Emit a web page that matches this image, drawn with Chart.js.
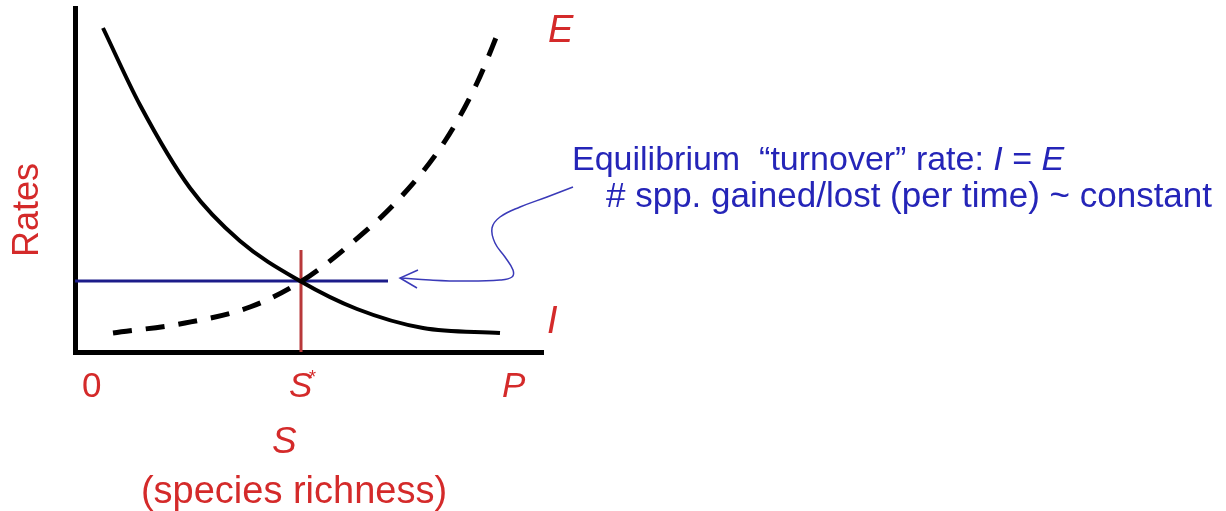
<!DOCTYPE html>
<html>
<head>
<meta charset="utf-8">
<script src="https://cdn.jsdelivr.net/npm/chart.js@4.4.1/dist/chart.umd.min.js"></script>
<style>
  body { margin: 0; background: #fff; }
  #wrap { width: 1226px; height: 511px; }
</style>
</head>
<body>
<div id="wrap"><canvas id="chart" width="1226" height="511"></canvas></div>
<script>
// species richness (S) on x, rates on y, arbitrary units
const immX = [28, 65, 115, 165, 225, 282, 348, 425];
const immY = [324, 247, 164, 111, 71, 43, 24, 19];

const extX = [38, 110, 175, 227, 272, 325, 370, 402, 425];
const extY = [19, 29, 45, 71, 105, 154, 211, 269, 324];

// equilibrium point S*, turnover rate
const eqS = 226;
const eqRate = 71;
const turnoverEndX = 313;
const eqMarkTop = 102;

// callout arrow from the note to the turnover line
const calloutX = [498, 472, 445, 425, 417, 420, 430, 438, 437, 425, 388, 355, 325];
const calloutY = [165, 155, 145, 135, 124, 109, 95, 82, 75, 72, 71, 72, 74];
const headX = [343, 325, 342];
const headY = [82, 74, 64];

const xMax = 468;
const yMax = 344;

const pts = (xs, ys) => xs.map((x, i) => ({ x: x, y: ys[i] }));

const red = '#d42a2a';
const blue = '#2525b8';
const font = '"Liberation Sans", Arial, sans-serif';

const labelPlugin = {
  id: 'labels',
  afterDatasetsDraw(chart) {
    const ctx = chart.ctx;
    ctx.save();
    ctx.textBaseline = 'alphabetic';
    ctx.textAlign = 'left';
    ctx.fillStyle = red;

    ctx.font = 'italic 38px ' + font;
    ctx.fillText('E', 548, 42);
    ctx.fillText('I', 547, 333);

    ctx.font = '35px ' + font;
    ctx.fillText('0', 82, 397);
    ctx.font = 'italic 35px ' + font;
    ctx.fillText('S', 289, 397);
    ctx.fillText('P', 502, 397);
    ctx.font = '18px ' + font;
    ctx.fillText('*', 309, 383);

    ctx.font = 'italic 37px ' + font;
    ctx.fillText('S', 272, 453);
    ctx.textAlign = 'center';
    ctx.font = '38px ' + font;
    ctx.fillText('(species richness)', 294, 503);

    ctx.save();
    ctx.translate(38, 210);
    ctx.rotate(-Math.PI / 2);
    ctx.font = '36px ' + font;
    ctx.fillText('Rates', 0, 0);
    ctx.restore();

    // blue note, mixed upright / italic runs
    ctx.textAlign = 'left';
    ctx.fillStyle = blue;
    const runs = [
      ['Equilibrium  \u201cturnover\u201d rate: ', false],
      ['I', true],
      [' = ', false],
      ['E', true]
    ];
    let cx = 572;
    runs.forEach(([t, it]) => {
      ctx.font = (it ? 'italic ' : '') + '34px ' + font;
      ctx.fillText(t, cx, 170);
      cx += ctx.measureText(t).width;
    });
    ctx.font = '35px ' + font;
    ctx.fillText('# spp. gained/lost (per time) ~ constant', 606, 207);
    ctx.restore();
  }
};

new Chart(document.getElementById('chart'), {
  type: 'line',
  data: {
    datasets: [
      {
        label: 'I',
        data: pts(immX, immY),
        borderColor: '#000',
        borderWidth: 4,
        cubicInterpolationMode: 'monotone'
      },
      {
        label: 'E',
        data: pts(extX, extY),
        borderColor: '#000',
        borderWidth: 5,
        borderDash: [19, 14],
        cubicInterpolationMode: 'monotone'
      },
      {
        label: 'turnover',
        data: pts([0, turnoverEndX], [eqRate, eqRate]),
        borderColor: '#1c1c8a',
        borderWidth: 3
      },
      {
        label: 'S*',
        data: pts([eqS, eqS], [eqMarkTop, 0]),
        borderColor: '#b8383a',
        borderWidth: 3
      },
      {
        label: 'callout',
        data: pts(calloutX, calloutY),
        borderColor: '#3a3ab8',
        borderWidth: 1.5,
        tension: 0.4,
        clip: false
      },
      {
        label: 'head',
        data: pts(headX, headY),
        borderColor: '#3a3ab8',
        borderWidth: 1.5,
        clip: false
      }
    ]
  },
  options: {
    responsive: false,
    animation: false,
    layout: { padding: { left: 75, right: 1226 - 543, top: 8, bottom: 511 - 352 } },
    elements: { point: { radius: 0 } },
    scales: {
      x: {
        type: 'linear',
        min: 0,
        max: xMax,
        ticks: { display: false },
        grid: { display: false, drawTicks: false },
        border: { display: true, color: '#000', width: 5 }
      },
      y: {
        min: 0,
        max: yMax,
        ticks: { display: false },
        grid: { display: false, drawTicks: false },
        border: { display: true, color: '#000', width: 5 }
      }
    },
    plugins: {
      legend: { display: false },
      tooltip: { enabled: false }
    }
  },
  plugins: [labelPlugin]
});
</script>
</body>
</html>
